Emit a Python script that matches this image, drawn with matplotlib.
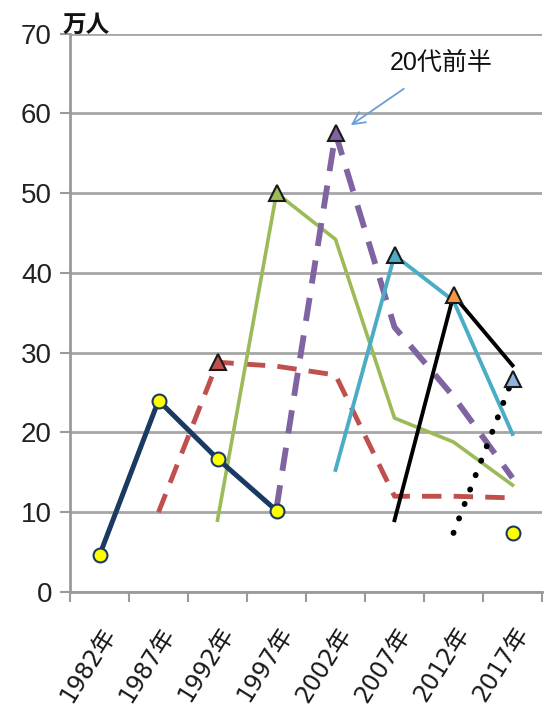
import numpy as np
import matplotlib
matplotlib.use("Agg")
import matplotlib.pyplot as plt
from matplotlib import font_manager

nan = np.nan
years = ["1982年", "1987年", "1992年", "1997年", "2002年", "2007年", "2012年", "2017年"]
yticks = [0, 10, 20, 30, 40, 50, 60, 70]

s_navy   = [4.6, 24.0, 16.7, 10.2, nan, nan, nan, nan]
s_navy_extra = [nan, nan, nan, nan, nan, nan, nan, 7.4]
s_red    = [nan, 10.0, 28.8, 28.3, 27.2, 12.0, 12.0, 11.8]
s_green  = [nan, nan, 9.0, 50.0, 44.2, 21.8, 18.8, 13.4]
s_purple = [nan, nan, nan, 10.5, 57.5, 33.2, 24.5, 14.3]
s_teal   = [nan, nan, nan, nan, 15.3, 42.2, 36.5, 19.8]
s_black  = [nan, nan, nan, nan, nan, 9.0, 37.2, 28.4]
s_dot    = [nan, nan, nan, nan, nan, nan, 7.4, 26.7]

avail = {f.name for f in font_manager.fontManager.ttflist}
narrow = "Liberation Sans Narrow" if "Liberation Sans Narrow" in avail else "Liberation Sans"
cjk = "Noto Sans CJK JP"
plt.rcParams['font.family'] = [narrow, cjk, 'DejaVu Sans']

fig = plt.figure(figsize=(5.54, 7.23), dpi=100)
ax = fig.add_axes([70/554, 1-592/723, (542-70)/554, (592-33.5)/723])
x = np.arange(len(years))

ax.set_xlim(-0.5, 7.5)
ax.set_ylim(0, 70)
ax.set_yticks(yticks)
ax.set_xticks(x)
ax.set_xticks(np.arange(-0.5, 8.0, 1.0), minor=True)
ax.set_xticklabels(years, rotation=58, ha='right', rotation_mode='anchor',
                   fontsize=17, family=['DejaVu Sans', cjk], color='#1a1a1a')
ax.tick_params(axis='x', which='major', length=0, pad=22)
ax.tick_params(axis='x', which='minor', length=7, width=1.5, color='#9a9a9a', direction='out')
ax.tick_params(axis='y', length=7, width=1.5, color='#9a9a9a', labelsize=20, pad=6, labelcolor='#222222')
for sp in ['top', 'right']:
    ax.spines[sp].set_visible(False)
for sp in ['left', 'bottom']:
    ax.spines[sp].set_color('#9a9a9a')
    ax.spines[sp].set_linewidth(2)
ax.yaxis.grid(True, color='#a6a6a6', linewidth=2)
ax.set_axisbelow(True)

ax.plot(x, s_red, color='#C0504D', lw=3.5, dashes=(4, 2.5), zorder=3)
ax.plot(x, s_green, color='#9BBB59', lw=2.6, zorder=3)
ax.plot(x, s_purple, color='#8064A2', lw=4.2, dashes=(4, 2.5), zorder=3)
ax.plot(x, s_teal, color='#4BACC6', lw=2.8, zorder=3)
ax.plot(x, s_black, color='black', lw=2.8, zorder=3)
ax.plot(x, s_dot, color='black', lw=4.2, linestyle=(0, (0.05, 2.6)), dash_capstyle='round', zorder=3)
ax.plot(x, s_navy, color='#1B3A63', lw=3.6, zorder=4)

# circle markers
ax.plot(x, s_navy, linestyle='none', marker='o', markersize=10, markerfacecolor='#FFFF00',
        markeredgecolor='#1B3A63', markeredgewidth=1.5, zorder=5)
ax.plot(x, s_navy_extra, linestyle='none', marker='o', markersize=10, markerfacecolor='#FFFF00',
        markeredgecolor='#1B3A63', markeredgewidth=1.5, zorder=5)

# peak triangles
peaks = [(s_red, 2, '#C0504D'), (s_green, 3, '#9BBB59'), (s_purple, 4, '#8064A2'),
         (s_teal, 5, '#4BACC6'), (s_black, 6, '#F79646'), (s_dot, 7, '#8EB4E3')]
for ser, i, c in peaks:
    ax.plot([x[i]], [ser[i]], linestyle='none', marker='^', markersize=12,
            markerfacecolor=c, markeredgecolor='#1a1a1a', markeredgewidth=1.5, zorder=6)

ax.annotate("20代前半", xy=(4.22, 58.3), xytext=(4.92, 66.3),
            fontsize=18, family=[narrow, cjk], color='#111111', ha='left', va='center',
            arrowprops=dict(arrowstyle='->', color='#6a9fd8', lw=1.3,
                            shrinkA=14, shrinkB=2, mutation_scale=22),
            annotation_clip=False)

fig.text(63/554, 1-25/723, "万人", fontsize=17, fontweight='bold', family=[cjk],
         ha='left', va='center', color='#111111')

fig.savefig("out.png", dpi=100)
